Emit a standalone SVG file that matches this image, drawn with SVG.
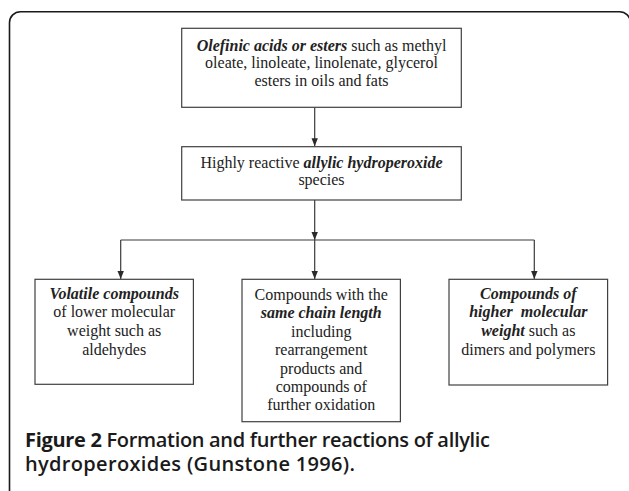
<svg xmlns="http://www.w3.org/2000/svg" width="629" height="491" viewBox="0 0 629 491">
<defs>
<marker id="ah" viewBox="0 0 8 8" refX="8" refY="4" markerWidth="8" markerHeight="8" markerUnits="userSpaceOnUse" orient="auto">
<path d="M0,0.8 L8,4 L0,7.2 Z" fill="#2a2a2a"/>
</marker>
<style>
.box{fill:#fff;stroke:#404040;stroke-width:1.2}
.t{font-family:"Liberation Serif","Times New Roman",serif;font-size:16px;fill:#222;text-anchor:middle}
.bi{font-weight:bold;font-style:italic}
.c{stroke:#3a3a3a;stroke-width:1.2;fill:none}
.cap{font-family:"Open Sans","Noto Sans",sans-serif;font-size:20px;fill:#1a1a1a;font-weight:600}
</style>
</defs>
<rect x="9.5" y="11.7" width="621" height="500" rx="11" fill="#fff" stroke="#1a1a1a" stroke-width="1.6"/>
<g id="connectors">
<line class="c" x1="314.7" y1="107.3" x2="314.7" y2="146.2" marker-end="url(#ah)"/>
<line class="c" x1="314.7" y1="200" x2="314.7" y2="240" marker-end="url(#ah)"/>
<line class="c" x1="120.7" y1="240" x2="534.3" y2="240"/>
<line class="c" x1="120.7" y1="240" x2="120.7" y2="279" marker-end="url(#ah)"/>
<line class="c" x1="314.7" y1="240" x2="314.7" y2="279" marker-end="url(#ah)"/>
<line class="c" x1="534.3" y1="240" x2="534.3" y2="279" marker-end="url(#ah)"/>
</g>
<g id="n1">
<rect class="box" x="181.7" y="28.3" width="279.6" height="79"/>
<text class="t" x="321.5" y="50.7"><tspan class="bi">Olefinic acids or esters</tspan> such as methyl</text>
<text class="t" x="321.5" y="68.4">oleate, linoleate, linolenate, glycerol</text>
<text class="t" x="321.5" y="86.1">esters in oils and fats</text>
</g>
<g id="n2">
<rect class="box" x="181.7" y="146.7" width="279.6" height="53.3"/>
<text class="t" x="321.5" y="167.7">Highly reactive <tspan class="bi">allylic hydroperoxide</tspan></text>
<text class="t" x="321.5" y="185.2">species</text>
</g>
<g id="n3">
<rect class="box" x="35" y="279.3" width="158.4" height="105"/>
<text class="t" x="114.2" y="298.7"><tspan class="bi">Volatile compounds</tspan></text>
<text class="t" x="114.2" y="317.3">of lower molecular</text>
<text class="t" x="114.2" y="335.9">weight such as</text>
<text class="t" x="114.2" y="354.5">aldehydes</text>
</g>
<g id="n4">
<rect class="box" x="242" y="279.3" width="158.4" height="142.4"/>
<text class="t" x="321.2" y="300">Compounds with the</text>
<text class="t bi" x="321.2" y="318.4">same chain length</text>
<text class="t" x="321.2" y="336.8">including</text>
<text class="t" x="321.2" y="355.2">rearrangement</text>
<text class="t" x="321.2" y="373.6">products and</text>
<text class="t" x="321.2" y="392">compounds of</text>
<text class="t" x="321.2" y="410.4">further oxidation</text>
</g>
<g id="n5">
<rect class="box" x="449" y="279.3" width="158.6" height="105.7"/>
<text class="t bi" x="528.3" y="298.7">Compounds of</text>
<text class="t bi" x="528.3" y="317.3" xml:space="preserve">higher  molecular</text>
<text class="t" x="528.3" y="335.9"><tspan class="bi">weight</tspan> such as</text>
<text class="t" x="528.3" y="354.5">dimers and polymers</text>
</g>
<g id="caption">
<text class="cap" x="25" y="446.5" textLength="465" lengthAdjust="spacing"><tspan font-weight="bold">Figure 2</tspan> Formation and further reactions of allylic</text>
<text class="cap" x="25" y="471" textLength="330" lengthAdjust="spacing">hydroperoxides (Gunstone 1996).</text>
</g>
</svg>
